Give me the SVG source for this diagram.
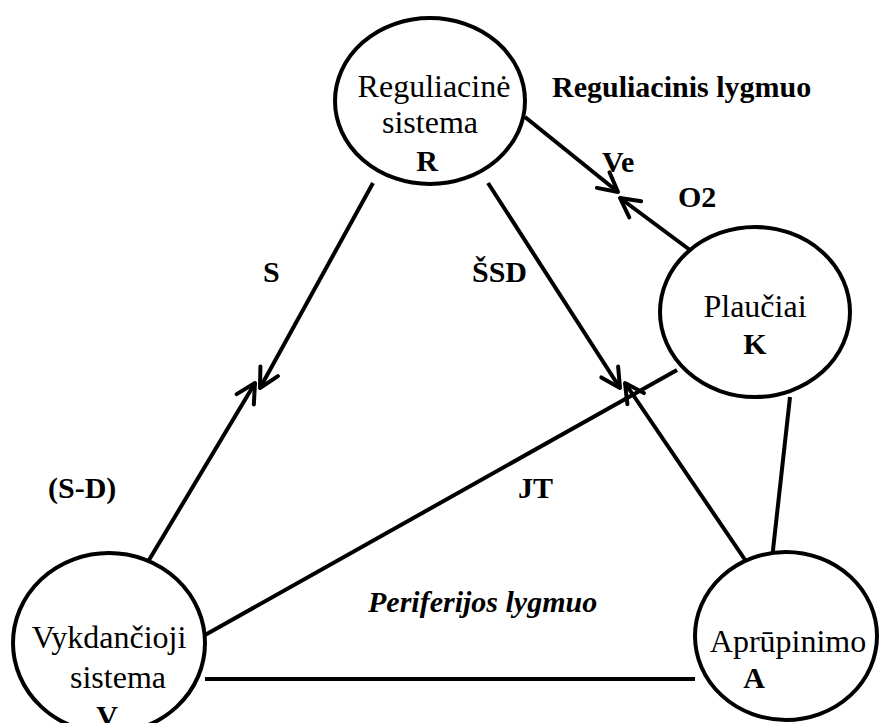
<svg xmlns="http://www.w3.org/2000/svg" width="879" height="723" viewBox="0 0 879 723">
<style>
.node{fill:#fff;stroke:#000;stroke-width:4}
.t{font-family:"Liberation Serif","Times New Roman",serif;font-size:32px;fill:#000}
.b{font-family:"Liberation Serif","Times New Roman",serif;font-size:30px;font-weight:bold;fill:#000}
.bi{font-family:"Liberation Serif","Times New Roman",serif;font-size:30px;font-weight:bold;font-style:italic;fill:#000}
.c{stroke:#000;stroke-width:4;fill:none}
.m{text-anchor:middle}
</style>
<defs>
<marker id="arr" markerUnits="userSpaceOnUse" viewBox="-24 -14 28 28" markerWidth="28" markerHeight="28" refX="0" refY="0" orient="auto">
<path d="M-19,-10 L0,0 L-19,10" fill="none" stroke="#000" stroke-width="4" stroke-linecap="round" stroke-linejoin="round"/>
</marker>
</defs>
<rect width="879" height="723" fill="#fff"/>
<g id="connectors">
<line class="c" x1="525" y1="117" x2="618" y2="192" marker-end="url(#arr)"/>
<line class="c" x1="694" y1="253" x2="620" y2="198" marker-end="url(#arr)"/>
<line class="c" x1="373" y1="183" x2="260" y2="388" marker-end="url(#arr)"/>
<line class="c" x1="143" y1="570" x2="255" y2="383" marker-end="url(#arr)"/>
<line class="c" x1="488" y1="183" x2="620" y2="388" marker-end="url(#arr)"/>
<line class="c" x1="754" y1="573" x2="625" y2="383" marker-end="url(#arr)"/>
<line class="c" x1="205" y1="635" x2="677" y2="370"/>
<line class="c" x1="790" y1="397" x2="772" y2="559"/>
<line class="c" x1="205" y1="679" x2="695" y2="679"/>
</g>
<g id="node-R">
<ellipse class="node" cx="430" cy="101" rx="95" ry="83"/>
<text class="t m" x="434" y="97">Reguliacinė</text>
<text class="t m" x="430" y="133">sistema</text>
<text class="b m" x="427" y="171">R</text>
</g>
<g id="node-K">
<ellipse class="node" cx="755" cy="312" rx="95" ry="85"/>
<text class="t m" x="755" y="317">Plaučiai</text>
<text class="b m" x="755" y="354">K</text>
</g>
<g id="node-V">
<ellipse class="node" cx="109" cy="643" rx="96" ry="90"/>
<text class="t m" x="109" y="648">Vykdančioji</text>
<text class="t m" x="118" y="688">sistema</text>
<text class="b m" x="107" y="726">V</text>
</g>
<g id="node-A">
<ellipse class="node" cx="786" cy="636" rx="91" ry="84"/>
<text class="t m" x="788" y="652">Aprūpinimo</text>
<text class="b m" x="754" y="688">A</text>
</g>
<g id="labels">
<text class="b" x="552" y="97">Reguliacinis lygmuo</text>
<text class="b" x="602" y="172">Ve</text>
<text class="b" x="678" y="207">O2</text>
<text class="b" x="263" y="282">S</text>
<text class="b" x="472" y="282">ŠSD</text>
<text class="b" x="48" y="498">(S-D)</text>
<text class="b" x="518" y="498">JT</text>
<text class="bi" x="368" y="612">Periferijos lygmuo</text>
</g>
</svg>
